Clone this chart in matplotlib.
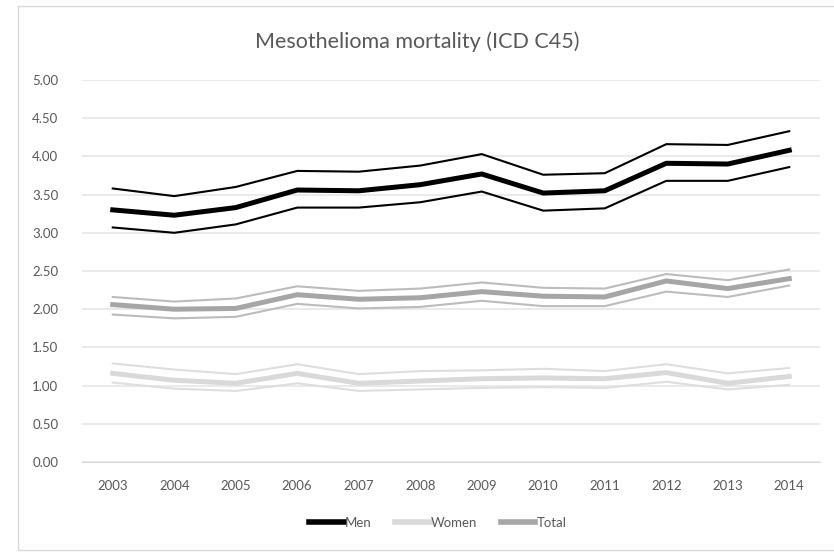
import numpy as np
import matplotlib.pyplot as plt
from matplotlib.lines import Line2D

plt.rcParams["font.family"] = ["Lato", "DejaVu Sans"]

years = list(range(2003, 2015))

men = [3.30, 3.23, 3.33, 3.56, 3.55, 3.63, 3.77, 3.52, 3.55, 3.91, 3.90, 4.08]
men_hi = [3.58, 3.48, 3.60, 3.81, 3.80, 3.88, 4.03, 3.76, 3.78, 4.16, 4.15, 4.33]
men_lo = [3.07, 3.00, 3.11, 3.33, 3.33, 3.40, 3.54, 3.29, 3.32, 3.68, 3.68, 3.86]

women = [1.16, 1.07, 1.03, 1.16, 1.03, 1.06, 1.09, 1.10, 1.09, 1.17, 1.03, 1.12]
women_hi = [1.29, 1.21, 1.15, 1.28, 1.15, 1.19, 1.20, 1.22, 1.19, 1.28, 1.16, 1.23]
women_lo = [1.04, 0.96, 0.93, 1.03, 0.93, 0.95, 0.97, 0.98, 0.97, 1.05, 0.95, 1.01]

total = [2.06, 2.00, 2.01, 2.19, 2.13, 2.15, 2.23, 2.17, 2.16, 2.37, 2.27, 2.40]
total_hi = [2.16, 2.10, 2.14, 2.30, 2.24, 2.27, 2.35, 2.28, 2.27, 2.46, 2.38, 2.52]
total_lo = [1.93, 1.88, 1.90, 2.07, 2.01, 2.03, 2.11, 2.04, 2.04, 2.23, 2.16, 2.31]

fig = plt.figure(figsize=(8.34, 5.53), dpi=100)
ax = fig.add_axes([82 / 834, 1 - 462 / 553, 738 / 834, 382 / 553])

x = np.arange(len(years))

series = [
    (men, men_hi, men_lo, "#000000", "#000000", "Men"),
    (women, women_hi, women_lo, "#d9d9d9", "#dedede", "Women"),
    (total, total_hi, total_lo, "#a6a6a6", "#bcbcbc", "Total"),
]
for mid, hi, lo, col, cicol, name in series:
    ax.plot(x, hi, color=cicol, lw=1.5, solid_joinstyle="round")
    ax.plot(x, lo, color=cicol, lw=1.5, solid_joinstyle="round")
    ax.plot(x, mid, color=col, lw=3.6, solid_joinstyle="round", label=name)

ax.set_xlim(-0.5, len(years) - 0.5)
ax.set_ylim(0, 5)
ax.set_yticks(np.arange(0, 5.01, 0.5))
ax.set_yticklabels([f"{v:.2f}" for v in np.arange(0, 5.01, 0.5)])
ax.set_xticks(x)
ax.set_xticklabels([str(y) for y in years])
ax.yaxis.grid(True, color="#e6e6e6", lw=1.2)
ax.set_axisbelow(True)
for s in ax.spines.values():
    s.set_visible(False)
ax.spines["bottom"].set_visible(True)
ax.spines["bottom"].set_color("#d9d9d9")
ax.tick_params(length=0, colors="#595959", labelsize=9.5)
ax.tick_params(axis="x", pad=13)
ax.tick_params(axis="y", pad=17)

fig.text(0.5, 1 - 42 / 553, "Mesothelioma mortality (ICD C45)", ha="center", va="center",
         fontsize=15.5, color="#595959")

handles = [Line2D([], [], color=c, lw=4) for c in ["#000000", "#d9d9d9", "#a6a6a6"]]
fig.legend(handles, ["Men", "Women", "Total"], loc="center", bbox_to_anchor=(438 / 834, 1 - 523 / 553),
           ncol=3, frameon=False, handlelength=2.6, handletextpad=0.1, columnspacing=1.8,
           labelcolor="#595959", fontsize=9.5)

fig.patches.append(plt.Rectangle((18 / 834, 1 - 550 / 553), 1.0, 544 / 553, transform=fig.transFigure,
                                 fill=False, edgecolor="#d9d9d9", lw=1))

fig.savefig("out.png", dpi=100)
